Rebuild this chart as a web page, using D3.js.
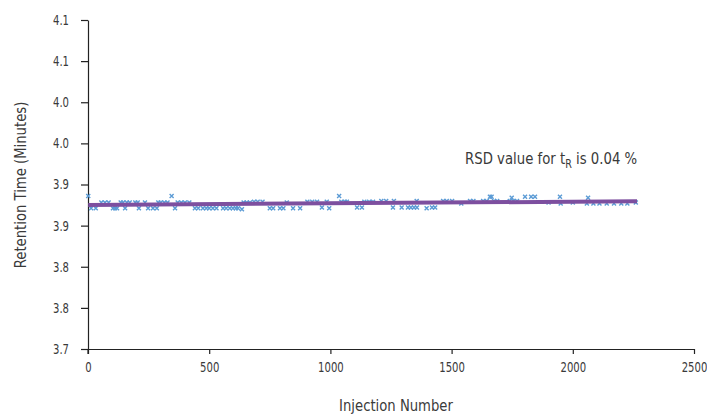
<!DOCTYPE html>
<html>
<head>
<meta charset="utf-8">
<script src="https://cdn.jsdelivr.net/npm/d3@7"></script>
<style>
  html, body { margin: 0; padding: 0; background: #fff; }
  svg { display: block; }
  text { font-family: "DejaVu Sans", "Liberation Sans", sans-serif; fill: #3a3a3a; }
</style>
</head>
<body>
<svg id="chart" width="707" height="417"></svg>
<script>
// ---- Data ----
const injection = [1, 13, 32, 55, 70, 85, 103, 112, 120, 135, 145, 153, 160, 172, 195, 205, 210, 235, 248, 268,
  284, 290, 300, 315, 328, 345, 359, 370, 385, 400, 418, 441, 455, 474, 488, 500, 515, 530, 557, 570,
  585, 598, 610, 619, 635, 642, 655, 668, 685, 700, 720, 750, 764, 792, 806, 820, 846, 875, 905, 925,
  945, 965, 985, 995, 1036, 1045, 1060, 1068, 1110, 1130, 1140, 1160, 1176, 1210, 1230, 1258, 1262, 1294, 1320, 1332,
  1345, 1356, 1357, 1397, 1419, 1432, 1465, 1480, 1502, 1540, 1576, 1590, 1630, 1645, 1658, 1665, 1675, 1688, 1740, 1748,
  1755, 1770, 1803, 1828, 1844, 1900, 1947, 1950, 2000, 2058, 2063, 2085, 2110, 2140, 2170, 2200, 2225, 2260];
const retention = [3.886, 3.871, 3.871, 3.878, 3.878, 3.878, 3.871, 3.871, 3.871, 3.878, 3.878, 3.871, 3.878, 3.878, 3.878, 3.878, 3.871, 3.878, 3.871, 3.871,
  3.871, 3.878, 3.878, 3.878, 3.878, 3.886, 3.871, 3.878, 3.878, 3.878, 3.878, 3.871, 3.871, 3.871, 3.871, 3.871, 3.871, 3.871, 3.871, 3.871,
  3.871, 3.871, 3.871, 3.871, 3.870, 3.878, 3.878, 3.878, 3.879, 3.879, 3.879, 3.871, 3.871, 3.871, 3.871, 3.878, 3.871, 3.871, 3.879, 3.879,
  3.879, 3.872, 3.879, 3.871, 3.886, 3.879, 3.879, 3.879, 3.872, 3.872, 3.879, 3.879, 3.879, 3.880, 3.880, 3.872, 3.880, 3.872, 3.872, 3.872,
  3.872, 3.880, 3.872, 3.871, 3.872, 3.872, 3.880, 3.880, 3.880, 3.877, 3.880, 3.880, 3.880, 3.880, 3.885, 3.885, 3.880, 3.880, 3.880, 3.884,
  3.880, 3.880, 3.885, 3.885, 3.885, 3.878, 3.885, 3.877, 3.878, 3.877, 3.884, 3.877, 3.877, 3.877, 3.877, 3.877, 3.877, 3.878];

const trendX = [1, 2265];
const trendY = [3.8752, 3.8796];

const xTicks = [0, 500, 1000, 1500, 2000, 2500];
const xTickLabels = ["0", "500", "1000", "1500", "2000", "2500"];
const yTicks = [3.70, 3.75, 3.80, 3.85, 3.90, 3.95, 4.00, 4.05, 4.10];
const yTickLabels = ["3.7", "3.8", "3.8", "3.9", "3.9", "4.0", "4.0", "4.1", "4.1"];

const xTitle = "Injection Number";
const yTitle = "Retention Time (Minutes)";

// ---- Chart ----
const CF = 0.72; // horizontal condensing of the text, to mimic a condensed typeface
const svg = d3.select("#chart");
const x = d3.scaleLinear().domain([0, 2500]).range([88, 694]);
const y = d3.scaleLinear().domain([3.7, 4.1]).range([349, 20]);

// axes
const xAxis = d3.axisBottom(x).tickValues(xTicks)
  .tickFormat((d, i) => xTickLabels[i]).tickSizeInner(5).tickSizeOuter(0).tickPadding(8);
const yAxis = d3.axisLeft(y).tickValues(yTicks)
  .tickFormat((d, i) => yTickLabels[i]).tickSizeInner(7).tickSizeOuter(0).tickPadding(12);

const gx = svg.append("g").attr("transform", `translate(0,${y(3.7)})`).call(xAxis);
const gy = svg.append("g").attr("transform", `translate(${x(0)},0)`).call(yAxis);
[gx, gy].forEach(g => {
  g.select(".domain").attr("stroke", "#222").attr("stroke-width", 1.2);
  g.selectAll(".tick line").attr("stroke", "#222").attr("stroke-width", 1.2);
  g.selectAll(".tick text").style("font-family", '"DejaVu Sans", sans-serif')
    .style("font-size", "14px").attr("fill", "#3a3a3a")
    .attr("transform", `scale(${CF},1)`)
    .attr("x", function() { return (+d3.select(this).attr("x") || 0) / CF; });
});
// y-axis extends slightly below x-axis
svg.append("line").attr("x1", x(0)).attr("x2", x(0)).attr("y1", y(3.7)).attr("y2", y(3.7) + 5)
  .attr("stroke", "#222").attr("stroke-width", 1.2);

// markers (small x)
const m = 2;
svg.append("g").selectAll("path").data(injection.map((d, i) => [d, retention[i]])).join("path")
  .attr("d", d => {
    const cx = x(d[0]), cy = y(d[1]);
    return `M${cx - m},${cy - m}L${cx + m},${cy + m}M${cx - m},${cy + m}L${cx + m},${cy - m}`;
  })
  .attr("stroke", "#5b9bd5").attr("stroke-width", 1.4).attr("fill", "none");

// trend line
svg.append("path")
  .datum(trendX.map((d, i) => [d, trendY[i]]))
  .attr("d", d3.line().x(d => x(d[0])).y(d => y(d[1])))
  .attr("stroke", "#7d4f9f").attr("stroke-width", 4).attr("fill", "none");

// titles
svg.append("text").attr("transform", `translate(396,411) scale(0.8,1)`)
  .attr("text-anchor", "middle").style("font-size", "16.5px").text(xTitle);
svg.append("text").attr("transform", `translate(26,185) rotate(-90) scale(0.8,1)`)
  .attr("text-anchor", "middle").style("font-size", "16.5px").text(yTitle);

// annotation
const ann = svg.append("text").attr("transform", "translate(465,164) scale(0.83,1)").style("font-size", "16px");
ann.append("tspan").text("RSD value for t");
ann.append("tspan").attr("dy", 4).style("font-size", "11.5px").text("R");
ann.append("tspan").attr("dy", -4).text(" is 0.04 %");
</script>
</body>
</html>
